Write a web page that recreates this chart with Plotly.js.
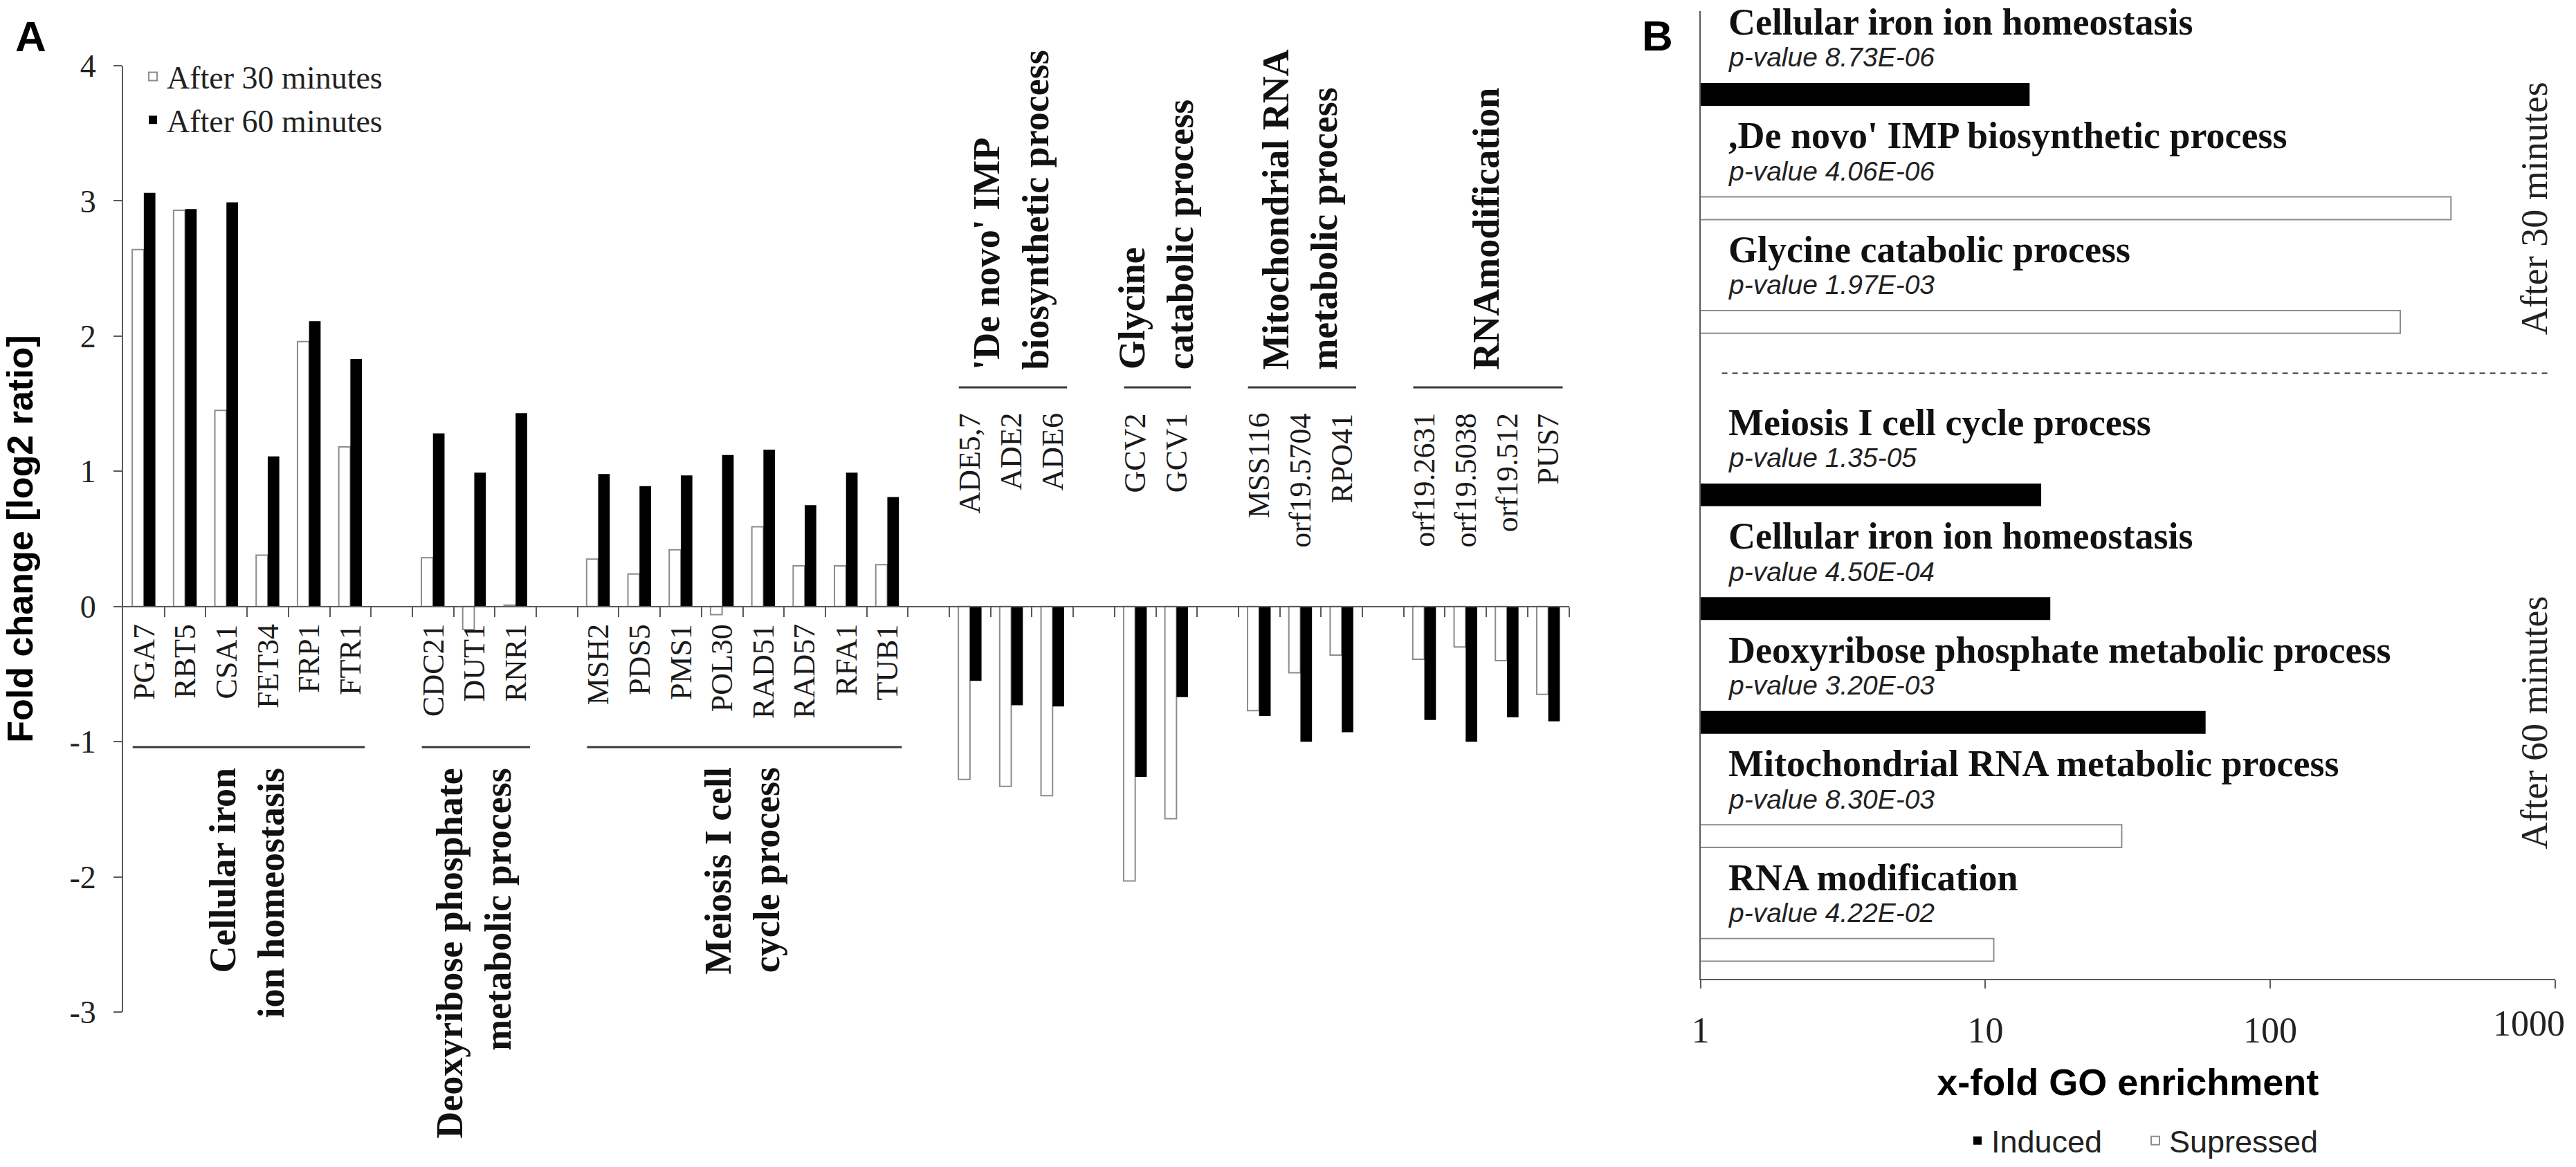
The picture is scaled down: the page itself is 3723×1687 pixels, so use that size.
<!DOCTYPE html>
<html>
<head>
<meta charset="utf-8">
<script src="https://cdn.plot.ly/plotly-3.0.1.min.js"></script>
<style>html,body{margin:0;padding:0;background:#fff;}#chart{width:3723px;height:1687px;}</style>
</head>
<body>
<div id="chart"></div>
<script>
// ---------- Panel A data ----------
const groupNames = [
  "Cellular iron<br>ion homeostasis",
  "Deoxyribose phosphate<br>metabolic process",
  "Meiosis I cell<br>cycle process",
  "'De novo' IMP<br>biosynthetic process",
  "Glycine<br>catabolic process",
  "Mitochondrial RNA<br>metabolic process",
  "RNAmodification"
];
const groupSizes = [6, 3, 8, 3, 2, 3, 4];
const genes = [
  "PGA7","RBT5","CSA1","FET34","FRP1","FTR1",
  "CDC21","DUT1","RNR1",
  "MSH2","PDS5","PMS1","POL30","RAD51","RAD57","RFA1","TUB1",
  "ADE5,7","ADE2","ADE6",
  "GCV2","GCV1",
  "MSS116","orf19.5704","RPO41",
  "orf19.2631","orf19.5038","orf19.512","PUS7"
];
const fc30 = [
  2.64, 2.93, 1.45, 0.38, 1.96, 1.18,
  0.36, -0.17, 0.01,
  0.35, 0.24, 0.42, -0.06, 0.59, 0.30, 0.30, 0.31,
  -1.28, -1.33, -1.40,
  -2.03, -1.57,
  -0.77, -0.49, -0.36,
  -0.39, -0.30, -0.40, -0.65
];
const fc60 = [
  3.06, 2.94, 2.99, 1.11, 2.11, 1.83,
  1.28, 0.99, 1.43,
  0.98, 0.89, 0.97, 1.12, 1.16, 0.75, 0.99, 0.81,
  -0.55, -0.73, -0.74,
  -1.26, -0.67,
  -0.81, -1.00, -0.93,
  -0.84, -1.00, -0.82, -0.85
];
const seriesNames = ["After 30 minutes", "After 60 minutes"];
const yTickVals = [-3, -2, -1, 0, 1, 2, 3, 4];
const yTickText = ["-3", "-2", "-1", "0", "1", "2", "3", "4"];

// ---------- Panel B data ----------
const goTerms = [
  "Cellular iron ion homeostasis",
  ",De novo' IMP biosynthetic process",
  "Glycine catabolic process",
  "Meiosis I cell cycle process",
  "Cellular iron ion homeostasis",
  "Deoxyribose phosphate metabolic process",
  "Mitochondrial RNA metabolic process",
  "RNA modification"
];
const goPValues = [
  "p-value 8.73E-06", "p-value 4.06E-06", "p-value 1.97E-03",
  "p-value 1.35-05", "p-value 4.50E-04", "p-value 3.20E-03",
  "p-value 8.30E-03", "p-value 4.22E-02"
];
const goFold = [14.3, 431, 286, 15.7, 16.9, 59.3, 30.1, 10.7];
const goTime = [
  "After 30 minutes", "After 30 minutes", "After 30 minutes",
  "After 60 minutes", "After 60 minutes", "After 60 minutes", "After 60 minutes", "After 60 minutes"
];
const goDirection = ["Induced", "Supressed", "Supressed", "Induced", "Induced", "Induced", "Supressed", "Supressed"];
const directionNames = ["Induced", "Supressed"];
const xTickVals = [1, 10, 100, 1000];
const xTickText = ["1", "10", "100", "1000"];
const xTitleB = "x-fold GO enrichment";
const yTitleA = "Fold change [log2 ratio]";

// ---------- layout constants ----------
const W = 3723, H = 1687;
const SERIF = "Liberation Serif, Times New Roman, serif";
const SANS = "Liberation Sans, Arial, sans-serif";
const axisGrey = "#5a5a5a";
const whiteBar = {color: "#ffffff", line: {color: "#8c8c8c", width: 2}};
const blackBar = {color: "#000000", line: {color: "#000000", width: 0}};
const tickFontB = {family: SERIF, size: 52, color: "#222"};

// Panel A positions (slot index per gene, one empty slot between groups)
const geneX = [], groupOf = [];
let pos = 0;
groupSizes.forEach((n, g) => {
  for (let k = 0; k < n; k++) { geneX.push(pos); groupOf.push(g); pos++; }
  pos++;
});
const nSlots = pos - 1;
const groupIsNeg = groupNames.map((_, g) => {
  const v = fc60.filter((_, i) => groupOf[i] === g);
  return v.reduce((a, b) => a + b, 0) / v.length < 0;
});

const yRangeA = [-3, 4];
const yDomA = [1 - 1463 / H, 1 - 95 / H];
const xDomA = [178 / W, 2267.5 / W];
const zeroPos = yDomA[0] + (0 - yRangeA[0]) / (yRangeA[1] - yRangeA[0]) * (yDomA[1] - yDomA[0]);
const boundaryTicks = [];
for (let b = 0; b < nSlots; b++) boundaryTicks.push(b + 0.5);

// Panel B positions
const blockGap = 0.52;
const goY = [];
let row = 0;
goTime.forEach((t, i) => {
  if (i > 0 && t !== goTime[i - 1]) row += blockGap;
  goY.push(row);
  row += 1;
});
const xDomB = [2457.7 / W, 3692.8 / W];
const yDomB = [1 - 1414.7 / H, 1 - 16 / H];
// the last tick label sits flush against the right edge (as in the original), so it is right-aligned
const lastTick = xTickText.length - 1;
const xTickTextShown = xTickText.map((t, i) => i === lastTick ? "" : t);

// ---------- traces ----------
const traces = [
  {type: "bar", name: seriesNames[0], x: geneX, y: fc30, marker: whiteBar,
   xaxis: "x", yaxis: "y", legend: "legend", hoverinfo: "skip"},
  {type: "bar", name: seriesNames[1], x: geneX, y: fc60, marker: blackBar,
   xaxis: "x", yaxis: "y", legend: "legend", hoverinfo: "skip"}
];
directionNames.forEach(d => {
  const idx = goDirection.map((v, i) => v === d ? i : -1).filter(i => i >= 0);
  traces.push({
    type: "bar", orientation: "h", name: d,
    x: idx.map(i => goFold[i]), y: idx.map(i => goY[i]),
    width: 0.2, offsetgroup: "go",
    marker: d === "Induced" ? blackBar : whiteBar,
    xaxis: "x2", yaxis: "y2", legend: "legend2", hoverinfo: "skip"
  });
});

// ---------- annotations & shapes ----------
const ann = [];
const shapes = [];
const geneFont = {family: SERIF, size: 44, color: "#1a1a1a"};
const groupFont = {family: SERIF, size: 54, color: "#111", weight: "bold"};

genes.forEach((g, i) => {
  const neg = groupIsNeg[groupOf[i]];
  ann.push({xref: "x", yref: "y", x: geneX[i], y: neg ? 1.44 : -0.12, text: g,
    textangle: -90, xanchor: "center", yanchor: "top", showarrow: false, font: geneFont});
});
groupNames.forEach((name, g) => {
  const xs = geneX.filter((_, i) => groupOf[i] === g);
  const x0 = Math.min(...xs), x1 = Math.max(...xs);
  const neg = groupIsNeg[g];
  const ly = neg ? 1.62 : -1.04;
  shapes.push({type: "line", xref: "x", yref: "y", x0: x0 - 0.27, x1: x1 + 0.35, y0: ly, y1: ly,
    line: {color: "#3a3a3a", width: 3}});
  ann.push({xref: "x", yref: "y", x: (x0 + x1) / 2, y: neg ? 1.74 : -1.18, text: name,
    textangle: -90, align: neg ? "left" : "right", xanchor: "center", yanchor: neg ? "bottom" : "top",
    showarrow: false, font: groupFont});
});

// Panel B texts
goTerms.forEach((t, i) => {
  ann.push({xref: "x2 domain", yref: "y2", x: 0.031, y: goY[i] - 0.636, text: t,
    xanchor: "left", yanchor: "middle", showarrow: false,
    font: {family: SERIF, size: 54, color: "#111", weight: "bold"}});
  ann.push({xref: "x2 domain", yref: "y2", x: 0.031, y: goY[i] - 0.326, text: goPValues[i],
    xanchor: "left", yanchor: "middle", showarrow: false,
    font: {family: SANS, size: 39, color: "#222", style: "italic"}});
});
[...new Set(goTime)].forEach(t => {
  const ys = goY.filter((_, i) => goTime[i] === t);
  ann.push({xref: "x2 domain", yref: "y2", x: 0.976, y: ys.reduce((a, b) => a + b, 0) / ys.length,
    text: t, textangle: -90, xanchor: "center", yanchor: "middle", showarrow: false,
    font: {family: SERIF, size: 54, color: "#222"}});
});
// right-aligned last tick label of the log axis
ann.push({xref: "x2", yref: "paper", x: Math.log10(xTickVals[lastTick]), xshift: 16,
  y: 1 - 1479 / H, text: xTickText[lastTick], xanchor: "right", yanchor: "middle",
  showarrow: false, font: tickFontB});

const lastOf30 = goY[goTime.lastIndexOf(goTime[0])];
shapes.push({type: "line", xref: "x2 domain", yref: "y2", x0: 0.025, x1: 0.992, y0: lastOf30 + 0.45, y1: lastOf30 + 0.45,
  line: {color: "#333", width: 2, dash: "8px,7px"}});

// Panel letters
ann.push({xref: "paper", yref: "paper", x: 44 / W, y: 1 - 52 / H, text: "A", showarrow: false,
  xanchor: "center", yanchor: "middle", font: {family: SANS, size: 62, color: "#000", weight: "bold"}});
ann.push({xref: "paper", yref: "paper", x: 2395 / W, y: 1 - 51 / H, text: "B", showarrow: false,
  xanchor: "center", yanchor: "middle", font: {family: SANS, size: 62, color: "#000", weight: "bold"}});

const layout = {
  width: W, height: H,
  margin: {l: 0, r: 0, t: 0, b: 0},
  paper_bgcolor: "#fff", plot_bgcolor: "rgba(0,0,0,0)",
  barmode: "group", bargap: 0.44, bargroupgap: 0,
  showlegend: true,
  xaxis: {
    domain: xDomA, anchor: "free", position: zeroPos,
    range: [-0.5, nSlots - 0.5], showgrid: false, zeroline: false,
    showline: true, linecolor: axisGrey, linewidth: 2,
    tickmode: "array", tickvals: boundaryTicks, ticks: "outside", ticklen: 14, tickwidth: 2, tickcolor: axisGrey,
    showticklabels: false, automargin: false, fixedrange: true
  },
  yaxis: {
    domain: yDomA, anchor: "x", range: yRangeA, showgrid: false, zeroline: false,
    showline: true, linecolor: axisGrey, linewidth: 2,
    tickmode: "array", tickvals: yTickVals, ticktext: yTickText,
    ticks: "outside", ticklen: 12, tickwidth: 2, tickcolor: axisGrey, ticklabelstandoff: 16,
    tickfont: {family: SERIF, size: 46, color: "#222"},
    title: {text: yTitleA, font: {family: SANS, size: 52, color: "#000", weight: "bold"}, standoff: 38},
    automargin: false, fixedrange: true
  },
  xaxis2: {
    domain: xDomB, anchor: "y2", type: "log", range: [0, 3], showgrid: false, zeroline: false,
    showline: true, linecolor: axisGrey, linewidth: 2,
    tickmode: "array", tickvals: xTickVals, ticktext: xTickTextShown,
    ticks: "outside", ticklen: 12, tickwidth: 2, tickcolor: axisGrey, ticklabelstandoff: 16,
    tickfont: tickFontB,
    title: {text: xTitleB, font: {family: SANS, size: 54, color: "#000", weight: "bold"}, standoff: 28},
    automargin: false, fixedrange: true
  },
  yaxis2: {
    domain: yDomB, anchor: "x2", range: [goY[goY.length - 1] + 0.253, -0.733],
    showgrid: false, zeroline: false, showline: true, linecolor: axisGrey, linewidth: 2,
    ticks: "", showticklabels: false, automargin: false, fixedrange: true
  },
  legend: {
    x: 0.054, y: 1 - 74 / H, xanchor: "left", yanchor: "top", orientation: "v",
    bgcolor: "rgba(0,0,0,0)", borderwidth: 0, traceorder: "normal",
    font: {family: SERIF, size: 46, color: "#222"}
  },
  legend2: {
    x: 3095 / W, y: 1 - 1649 / H, xanchor: "center", yanchor: "middle", orientation: "h",
    entrywidth: 212, entrywidthmode: "pixels",
    bgcolor: "rgba(0,0,0,0)", borderwidth: 0, traceorder: "normal",
    font: {family: SANS, size: 45, color: "#222"}
  },
  annotations: ann,
  shapes: shapes
};

Plotly.newPlot("chart", traces, layout, {displayModeBar: false, staticPlot: true});
</script>
</body>
</html>
